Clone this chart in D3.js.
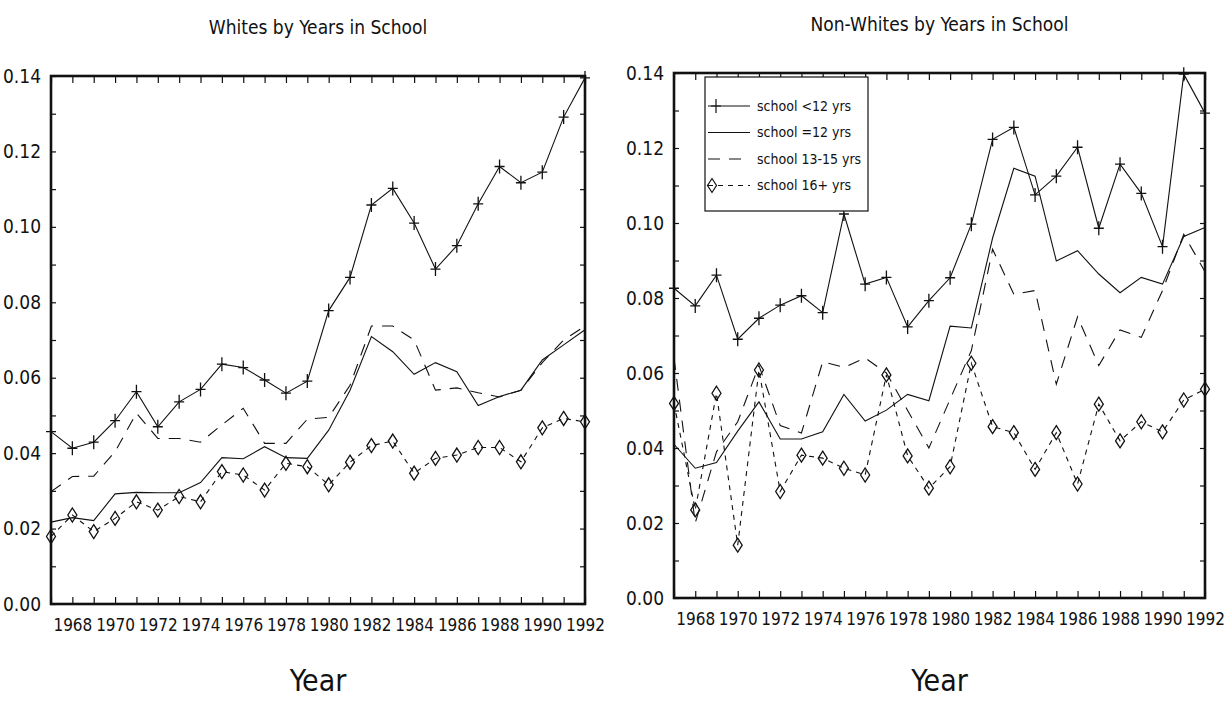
<!DOCTYPE html>
<html>
<head>
<meta charset="utf-8">
<script src="https://cdn.jsdelivr.net/npm/d3@7"></script>
<style>
  body { margin: 0; background: #fff; }
  text { font-family: 'Liberation Sans Narrow', 'DejaVu Sans Condensed', sans-serif; fill: #111; }
</style>
</head>
<body>
<script>
const years = [1967, 1968, 1969, 1970, 1971, 1972, 1973, 1974, 1975, 1976, 1977, 1978, 1979,
               1980, 1981, 1982, 1983, 1984, 1985, 1986, 1987, 1988, 1989, 1990, 1991, 1992]
const yearLabels = [1968, 1970, 1972, 1974, 1976, 1978, 1980, 1982, 1984, 1986, 1988, 1990, 1992]
const yTickValues = [0, 0.01, 0.02, 0.03, 0.04, 0.05, 0.06, 0.07, 0.08, 0.09, 0.10, 0.11, 0.12, 0.13, 0.14]
const yLabels = [0, 0.02, 0.04, 0.06, 0.08, 0.10, 0.12, 0.14]

const seriesNames = ["school <12 yrs", "school =12 yrs", "school 13-15 yrs", "school 16+ yrs"]

// whites
const whiteLt12 = [0.0457, 0.0413, 0.0429, 0.0486, 0.0563, 0.0470, 0.0536, 0.0569, 0.0636, 0.0627, 0.0594, 0.0559, 0.0591,
                   0.0778, 0.0866, 0.1058, 0.1102, 0.1010, 0.0888, 0.0950, 0.1061, 0.1160, 0.1117, 0.1145, 0.1291, 0.1395]
const whiteEq12 = [0.0217, 0.0229, 0.0221, 0.0292, 0.0296, 0.0295, 0.0295, 0.0322, 0.0388, 0.0385, 0.0417, 0.0388, 0.0386,
                   0.0461, 0.0567, 0.0709, 0.0669, 0.0609, 0.0640, 0.0616, 0.0526, 0.0550, 0.0567, 0.0647, 0.0687, 0.0727]
const white13to15 = [0.0298, 0.0338, 0.0339, 0.0404, 0.0506, 0.0439, 0.0439, 0.0429, 0.0475, 0.0519, 0.0426, 0.0426, 0.0490,
                     0.0495, 0.0580, 0.0737, 0.0737, 0.0700, 0.0567, 0.0573, 0.0560, 0.0549, 0.0567, 0.0640, 0.0700, 0.0737]
const white16plus = [0.0179, 0.0236, 0.0192, 0.0227, 0.0271, 0.0249, 0.0285, 0.0271, 0.0351, 0.0342, 0.0302, 0.0373, 0.0364,
                     0.0316, 0.0376, 0.0420, 0.0432, 0.0347, 0.0386, 0.0395, 0.0415, 0.0415, 0.0377, 0.0467, 0.0492, 0.0483]

// non-whites
const nonwhiteLt12 = [0.0826, 0.0779, 0.0861, 0.0690, 0.0746, 0.0781, 0.0806, 0.0761, 0.1024, 0.0837, 0.0855, 0.0723, 0.0793,
                      0.0854, 0.0997, 0.1223, 0.1255, 0.1075, 0.1125, 0.1202, 0.0986, 0.1157, 0.1079, 0.0937, 0.1397, 0.1293]
const nonwhiteEq12 = [0.0410, 0.0346, 0.0361, 0.0445, 0.0523, 0.0424, 0.0424, 0.0443, 0.0543, 0.0472, 0.0501, 0.0543, 0.0526,
                      0.0725, 0.0720, 0.0960, 0.1146, 0.1125, 0.0899, 0.0926, 0.0864, 0.0814, 0.0855, 0.0837, 0.0964, 0.0988]
const nonwhite13to15 = [0.064, 0.020, 0.039, 0.047, 0.062, 0.046, 0.044, 0.063, 0.0615, 0.064, 0.060, 0.050, 0.040,
                        0.053, 0.066, 0.093, 0.081, 0.082, 0.057, 0.075, 0.062, 0.0715, 0.0695, 0.082, 0.097, 0.087]
const nonwhite16plus = [0.0519, 0.0235, 0.0546, 0.0141, 0.0608, 0.0284, 0.0381, 0.0373, 0.0346, 0.0328, 0.0595, 0.0379, 0.0293,
                        0.0350, 0.0626, 0.0457, 0.0441, 0.0343, 0.0441, 0.0304, 0.0517, 0.0419, 0.0470, 0.0443, 0.0528, 0.0557]

const width = 1226
const height = 701

let svg = d3.select("body")
    .append("svg")
    .attr("width", width)
    .attr("height", height)

// line styles per series: dash pattern and marker
const styles = [
    { dash: null, marker: "plus" },
    { dash: null, marker: null },
    { dash: "12,9", marker: null },
    { dash: "5,5", marker: "diamond" }
]

const plusPath = "M0,-7V7M-5,0H5"
const diamondPath = "M0,-7L4.5,0L0,7L-4.5,0Z"

function drawPanel(opts) {
    let { x0, x1, y0, y1, title, titleY, data, legend } = opts

    let x = d3.scaleLinear().domain([1967, 1992]).range([x0, x1])
    let y = d3.scaleLinear().domain([0, 0.14]).range([y0, y1])

    let g = svg.append("g")

    // title
    g.append("text")
        .attr("x", (x0 + x1) / 2)
        .attr("y", titleY)
        .attr("text-anchor", "middle")
        .style("font-size", "19px")
        .style("font-weight", 300)
        .text(title)

    // ticks on all four sides, pointing inward
    g.append("g")
        .attr("transform", `translate(0, ${y0})`)
        .call(d3.axisBottom(x).tickValues(years).tickSize(-7).tickFormat(""))
    g.append("g")
        .attr("transform", `translate(0, ${y1})`)
        .call(d3.axisTop(x).tickValues(years).tickSize(-7).tickFormat(""))
    g.append("g")
        .attr("transform", `translate(${x0}, 0)`)
        .call(d3.axisLeft(y).tickValues(yTickValues).tickSize(-5).tickFormat(""))
    g.append("g")
        .attr("transform", `translate(${x1}, 0)`)
        .call(d3.axisRight(y).tickValues(yTickValues).tickSize(-5).tickFormat(""))
    g.selectAll(".domain").remove()
    g.selectAll(".tick line").attr("stroke", "#111").attr("stroke-width", 1.2)

    // tick labels
    let xl = g.append("g")
        .attr("transform", `translate(0, ${y0 + 11})`)
        .call(d3.axisBottom(x).tickValues(yearLabels).tickSize(0).tickFormat(d3.format("d")))
    xl.select(".domain").remove()
    xl.selectAll("text").style("font-size", "17px").attr("dy", "0.75em")

    let yl = g.append("g")
        .attr("transform", `translate(${x0 - 7}, 0)`)
        .call(d3.axisLeft(y).tickValues(yLabels).tickSize(0).tickFormat(d3.format(".2f")))
    yl.select(".domain").remove()
    yl.selectAll("text").style("font-size", "19px")

    // frame
    g.append("rect")
        .attr("x", x0)
        .attr("y", y1)
        .attr("width", x1 - x0)
        .attr("height", y0 - y1)
        .attr("fill", "none")
        .attr("stroke", "#111")
        .attr("stroke-width", 2.6)

    // x axis title
    g.append("text")
        .attr("x", (x0 + x1) / 2)
        .attr("y", 691)
        .attr("text-anchor", "middle")
        .style("font-size", "30px")
        .style("font-weight", 200)
        .text("Year")

    let line = d3.line()
        .x((d, i) => x(years[i]))
        .y(d => y(d))

    data.forEach((vals, s) => {
        let st = styles[s]
        g.append("path")
            .datum(vals)
            .attr("fill", "none")
            .attr("stroke", "#111")
            .attr("stroke-width", 1.1)
            .attr("stroke-dasharray", st.dash)
            .attr("d", line)

        if (st.marker) {
            g.append("g")
                .selectAll("path")
                .data(vals)
                .enter()
                .append("path")
                .attr("transform", (d, i) => `translate(${x(years[i])}, ${y(d)})`)
                .attr("d", st.marker == "plus" ? plusPath : diamondPath)
                .attr("fill", "none")
                .attr("stroke", "#111")
                .attr("stroke-width", 1.3)
        }
    })

    if (legend) {
        let lg = g.append("g")
        lg.append("rect")
            .attr("x", 705)
            .attr("y", 77)
            .attr("width", 163)
            .attr("height", 134)
            .attr("fill", "#fff")
            .attr("stroke", "#111")
            .attr("stroke-width", 1.2)

        seriesNames.forEach((name, s) => {
            let st = styles[s]
            let ly = 106 + s * 26.5
            lg.append("line")
                .attr("x1", 708).attr("x2", 750)
                .attr("y1", ly).attr("y2", ly)
                .attr("stroke", "#111")
                .attr("stroke-width", 1.1)
                .attr("stroke-dasharray", st.dash)
            if (st.marker) {
                lg.append("path")
                    .attr("transform", `translate(${st.marker == "plus" ? 716 : 712}, ${ly})`)
                    .attr("d", st.marker == "plus" ? plusPath : diamondPath)
                    .attr("fill", "none")
                    .attr("stroke", "#111")
                    .attr("stroke-width", 1.2)
            }
            lg.append("text")
                .attr("x", 757)
                .attr("y", ly)
                .attr("dy", "0.35em")
                .style("font-size", "14px")
                .text(name)
        })
    }
}

drawPanel({
    x0: 51, x1: 585, y0: 604, y1: 76,
    title: "Whites by Years in School",
    titleY: 34,
    data: [whiteLt12, whiteEq12, white13to15, white16plus],
    legend: false
})

drawPanel({
    x0: 674, x1: 1205, y0: 598, y1: 73,
    title: "Non-Whites by Years in School",
    titleY: 31,
    data: [nonwhiteLt12, nonwhiteEq12, nonwhite13to15, nonwhite16plus],
    legend: true
})
</script>
</body>
</html>
